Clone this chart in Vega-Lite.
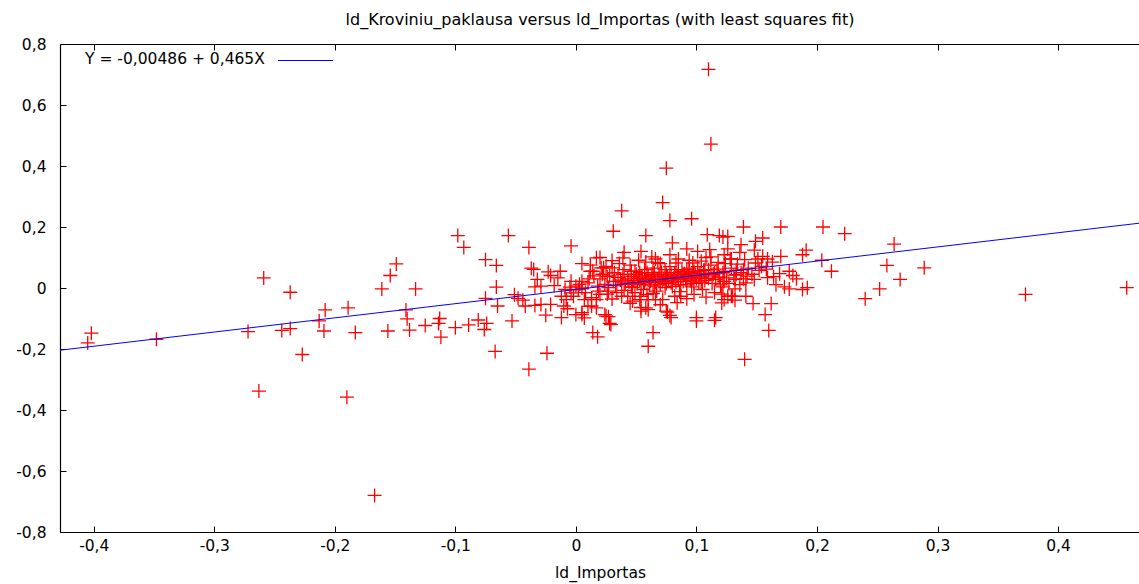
{
  "$schema": "https://vega.github.io/schema/vega-lite/v6.json",
  "width": 1080,
  "height": 488,
  "autosize": {"type": "none"},
  "padding": {"left": 60, "top": 44, "right": 0, "bottom": 52},
  "background": "white",
  "title": {"text": "ld_Kroviniu_paklausa versus ld_Importas (with least squares fit)", "font": "DejaVu Sans", "fontSize": 16, "fontWeight": "normal", "color": "black", "offset": 9},
  "config": {
    "view": {"stroke": null},
    "axis": {"labelFont": "DejaVu Sans", "labelFontSize": 15.5, "labelColor": "black", "domainColor": "black", "tickColor": "black", "grid": false, "titleFont": "DejaVu Sans", "titleFontSize": 15.5, "titleFontWeight": "normal", "titleColor": "black", "domainWidth": 1.2, "tickWidth": 1}
  },
  "datasets": {
    "fit": [{"x": -0.428, "y": -0.2039}, {"x": 0.468, "y": 0.2128}],
    "pts": [
      {"x": -0.402, "y": -0.148}, {"x": -0.405, "y": -0.180}, {"x": -0.348, "y": -0.168}, {"x": -0.272, "y": -0.143}, {"x": -0.259, "y": 0.033}, {"x": -0.263, "y": -0.338}, {"x": -0.237, "y": -0.014}, {"x": -0.244, "y": -0.139}, {"x": -0.237, "y": -0.133}, {"x": -0.227, "y": -0.218}, {"x": -0.213, "y": -0.108}, {"x": -0.209, "y": -0.141}, {"x": -0.208, "y": -0.072}, {"x": -0.189, "y": -0.065}, {"x": -0.190, "y": -0.358}, {"x": -0.183, "y": -0.146}, {"x": -0.167, "y": -0.680}, {"x": -0.161, "y": -0.003}, {"x": -0.154, "y": 0.041}, {"x": -0.149, "y": 0.079}, {"x": -0.156, "y": -0.141}, {"x": -0.141, "y": -0.072}, {"x": -0.140, "y": -0.101}, {"x": -0.138, "y": -0.138}, {"x": -0.133, "y": -0.003}, {"x": -0.125, "y": -0.123}, {"x": -0.114, "y": -0.116}, {"x": -0.113, "y": -0.100}, {"x": -0.112, "y": -0.161}, {"x": -0.100, "y": -0.130}, {"x": -0.098, "y": 0.172}, {"x": -0.093, "y": 0.133}, {"x": -0.089, "y": -0.121}, {"x": -0.081, "y": -0.105}, {"x": -0.075, "y": 0.093}, {"x": -0.074, "y": -0.116}, {"x": -0.076, "y": -0.136}, {"x": -0.066, "y": 0.074}, {"x": -0.066, "y": 0.003}, {"x": -0.075, "y": -0.034}, {"x": -0.065, "y": -0.059}, {"x": -0.067, "y": -0.208}, {"x": -0.056, "y": 0.172}, {"x": -0.053, "y": -0.108}, {"x": -0.051, "y": -0.022}, {"x": -0.048, "y": -0.034}, {"x": -0.044, "y": -0.040}, {"x": -0.042, "y": -0.059}, {"x": -0.039, "y": 0.133}, {"x": -0.037, "y": 0.065}, {"x": -0.035, "y": 0.061}, {"x": -0.032, "y": 0.028}, {"x": -0.034, "y": 0.004}, {"x": -0.029, "y": 0.006}, {"x": -0.039, "y": -0.266}, {"x": -0.024, "y": -0.214}, {"x": -0.029, "y": -0.054}, {"x": -0.025, "y": -0.089}, {"x": -0.023, "y": 0.053}, {"x": -0.021, "y": 0.041}, {"x": -0.021, "y": -0.054}, {"x": -0.018, "y": 0.008}, {"x": -0.013, "y": 0.055}, {"x": -0.015, "y": 0.033}, {"x": -0.012, "y": -0.097}, {"x": -0.010, "y": -0.059}, {"x": -0.007, "y": -0.068}, {"x": -0.004, "y": 0.138}, {"x": 0.000, "y": -0.087}, {"x": -0.004, "y": -0.016}, {"x": -0.002, "y": -0.027}, {"x": -0.009, "y": -0.005}, {"x": 0.000, "y": 0.006}, {"x": -0.004, "y": 0.022}, {"x": -0.034, "y": -0.057}, {"x": -0.012, "y": -0.027}, {"x": 0.002, "y": -0.005}, {"x": 0.005, "y": 0.080}, {"x": 0.017, "y": 0.099}, {"x": 0.012, "y": 0.055}, {"x": 0.005, "y": 0.022}, {"x": 0.007, "y": -0.038}, {"x": 0.013, "y": -0.059}, {"x": 0.017, "y": -0.038}, {"x": 0.005, "y": -0.087}, {"x": 0.024, "y": -0.087}, {"x": 0.026, "y": 0.037}, {"x": 0.025, "y": 0.071}, {"x": 0.031, "y": 0.186},
      {"x": 0.110, "y": 0.717}, {"x": 0.112, "y": 0.472}, {"x": 0.075, "y": 0.393}, {"x": 0.072, "y": 0.280}, {"x": 0.038, "y": 0.253}, {"x": 0.078, "y": 0.221}, {"x": 0.096, "y": 0.227}, {"x": 0.058, "y": 0.172}, {"x": 0.080, "y": 0.148}, {"x": 0.092, "y": 0.128}, {"x": 0.101, "y": 0.120}, {"x": 0.109, "y": 0.175}, {"x": 0.119, "y": 0.172}, {"x": 0.126, "y": 0.169}, {"x": 0.111, "y": 0.126}, {"x": 0.126, "y": 0.128}, {"x": 0.040, "y": 0.117}, {"x": 0.039, "y": 0.099}, {"x": 0.054, "y": 0.120}, {"x": 0.052, "y": 0.091}, {"x": 0.063, "y": 0.102}, {"x": 0.070, "y": 0.080}, {"x": 0.078, "y": 0.109}, {"x": 0.083, "y": 0.082}, {"x": 0.094, "y": 0.091}, {"x": 0.104, "y": 0.088}, {"x": 0.112, "y": 0.102}, {"x": 0.118, "y": 0.084}, {"x": 0.128, "y": 0.095}, {"x": 0.023, "y": 0.066}, {"x": 0.030, "y": 0.066}, {"x": 0.046, "y": 0.055}, {"x": 0.053, "y": 0.050}, {"x": 0.065, "y": 0.050}, {"x": 0.075, "y": 0.044}, {"x": 0.092, "y": 0.060}, {"x": 0.101, "y": 0.055}, {"x": 0.110, "y": 0.060}, {"x": 0.118, "y": 0.047}, {"x": 0.054, "y": -0.027}, {"x": 0.027, "y": -0.010}, {"x": 0.038, "y": -0.027}, {"x": 0.047, "y": -0.043}, {"x": 0.060, "y": -0.038}, {"x": 0.072, "y": -0.038}, {"x": 0.087, "y": -0.027}, {"x": 0.098, "y": -0.021}, {"x": 0.054, "y": -0.064}, {"x": 0.058, "y": -0.065}, {"x": 0.076, "y": -0.079}, {"x": 0.078, "y": -0.090}, {"x": 0.123, "y": -0.038}, {"x": 0.126, "y": -0.027}, {"x": 0.027, "y": -0.094}, {"x": 0.100, "y": -0.097}, {"x": 0.116, "y": -0.097}, {"x": 0.139, "y": 0.200}, {"x": 0.170, "y": 0.200}, {"x": 0.205, "y": 0.200}, {"x": 0.223, "y": 0.178}, {"x": 0.122, "y": 0.167}, {"x": 0.137, "y": 0.142}, {"x": 0.149, "y": 0.153}, {"x": 0.155, "y": 0.164}, {"x": 0.191, "y": 0.124}, {"x": 0.188, "y": 0.109}, {"x": 0.170, "y": 0.104}, {"x": 0.148, "y": 0.124}, {"x": 0.136, "y": 0.117}, {"x": 0.123, "y": 0.109}, {"x": 0.129, "y": 0.095}, {"x": 0.140, "y": 0.093}, {"x": 0.151, "y": 0.095}, {"x": 0.155, "y": 0.104}, {"x": 0.159, "y": 0.095}, {"x": 0.149, "y": 0.082}, {"x": 0.154, "y": 0.071}, {"x": 0.139, "y": 0.060}, {"x": 0.133, "y": 0.058}, {"x": 0.204, "y": 0.091}, {"x": 0.212, "y": 0.055}, {"x": 0.169, "y": 0.047}, {"x": 0.177, "y": 0.055}, {"x": 0.180, "y": 0.041}, {"x": 0.183, "y": 0.030}, {"x": 0.164, "y": 0.037}, {"x": 0.159, "y": 0.034}, {"x": 0.148, "y": 0.028}, {"x": 0.139, "y": 0.030}, {"x": 0.132, "y": 0.028}, {"x": 0.123, "y": 0.022}, {"x": 0.136, "y": 0.011}, {"x": 0.141, "y": 0.017}, {"x": 0.166, "y": 0.011}, {"x": 0.173, "y": 0.004}, {"x": 0.177, "y": -0.003}, {"x": 0.188, "y": -0.005}, {"x": 0.192, "y": 0.001}, {"x": 0.122, "y": 0.004}, {"x": 0.132, "y": -0.003}, {"x": 0.141, "y": -0.027}, {"x": 0.129, "y": -0.027}, {"x": 0.132, "y": -0.040}, {"x": 0.147, "y": -0.051}, {"x": 0.162, "y": -0.051}, {"x": 0.157, "y": -0.087}, {"x": 0.121, "y": -0.049}, {"x": 0.264, "y": 0.144}, {"x": 0.258, "y": 0.074}, {"x": 0.289, "y": 0.066}, {"x": 0.269, "y": 0.028}, {"x": 0.252, "y": -0.003}, {"x": 0.240, "y": -0.035}, {"x": 0.373, "y": -0.021}, {"x": 0.457, "y": 0.001}, {"x": 0.054, "y": -0.076}, {"x": 0.028, "y": -0.116}, {"x": 0.064, "y": -0.146}, {"x": 0.014, "y": -0.146}, {"x": 0.018, "y": -0.160}, {"x": 0.005, "y": -0.081}, {"x": 0.007, "y": -0.098}, {"x": 0.140, "y": -0.234}, {"x": 0.160, "y": -0.139}, {"x": 0.115, "y": -0.106}, {"x": 0.060, "y": -0.191},
      {"x": 0.068, "y": 0.083}, {"x": 0.021, "y": 0.066}, {"x": 0.014, "y": 0.055}, {"x": 0.032, "y": 0.050}, {"x": 0.040, "y": 0.060}, {"x": 0.049, "y": 0.055}, {"x": 0.057, "y": 0.060}, {"x": 0.063, "y": 0.044}, {"x": 0.071, "y": 0.052}, {"x": 0.075, "y": 0.033}, {"x": 0.085, "y": 0.060}, {"x": 0.089, "y": 0.044}, {"x": 0.098, "y": 0.055}, {"x": 0.107, "y": 0.060}, {"x": 0.115, "y": 0.050}, {"x": 0.123, "y": 0.055}, {"x": 0.133, "y": 0.044}, {"x": 0.142, "y": 0.039}, {"x": 0.010, "y": 0.017}, {"x": 0.018, "y": 0.006}, {"x": 0.027, "y": 0.001}, {"x": 0.038, "y": 0.017}, {"x": 0.046, "y": 0.004}, {"x": 0.054, "y": 0.011}, {"x": 0.065, "y": 0.006}, {"x": 0.074, "y": 0.001}, {"x": 0.079, "y": 0.017}, {"x": 0.087, "y": 0.011}, {"x": 0.096, "y": 0.004}, {"x": 0.104, "y": 0.017}, {"x": 0.013, "y": -0.032}, {"x": 0.020, "y": -0.021}, {"x": 0.030, "y": -0.036}, {"x": 0.043, "y": -0.027}, {"x": 0.053, "y": -0.038}, {"x": 0.059, "y": -0.021}, {"x": 0.066, "y": -0.038}, {"x": 0.082, "y": -0.027}, {"x": 0.130, "y": -0.027}, {"x": 0.010, "y": -0.060}, {"x": 0.017, "y": -0.065}, {"x": 0.025, "y": -0.092}, {"x": 0.029, "y": -0.120}, {"x": 0.060, "y": -0.071}, {"x": 0.075, "y": -0.076}, {"x": 0.079, "y": -0.097}, {"x": 0.100, "y": -0.108},
      {"x": 0.020, "y": 0.030}, {"x": 0.024, "y": 0.012}, {"x": 0.028, "y": 0.040}, {"x": 0.031, "y": 0.022}, {"x": 0.033, "y": 0.008}, {"x": 0.035, "y": 0.035}, {"x": 0.037, "y": 0.026}, {"x": 0.039, "y": 0.045}, {"x": 0.041, "y": 0.012}, {"x": 0.043, "y": 0.030}, {"x": 0.044, "y": 0.020}, {"x": 0.046, "y": 0.038}, {"x": 0.047, "y": 0.002}, {"x": 0.048, "y": 0.025}, {"x": 0.050, "y": 0.045}, {"x": 0.051, "y": 0.015}, {"x": 0.052, "y": 0.032}, {"x": 0.053, "y": 0.024}, {"x": 0.055, "y": 0.040}, {"x": 0.056, "y": -0.005}, {"x": 0.057, "y": 0.018}, {"x": 0.058, "y": 0.028}, {"x": 0.059, "y": 0.050}, {"x": 0.060, "y": 0.036}, {"x": 0.061, "y": 0.010}, {"x": 0.062, "y": 0.022}, {"x": 0.063, "y": 0.030}, {"x": 0.064, "y": 0.065}, {"x": 0.065, "y": 0.040}, {"x": 0.066, "y": 0.018}, {"x": 0.067, "y": -0.010}, {"x": 0.068, "y": 0.028}, {"x": 0.069, "y": 0.036}, {"x": 0.070, "y": 0.012}, {"x": 0.071, "y": 0.045}, {"x": 0.072, "y": 0.022}, {"x": 0.073, "y": 0.030}, {"x": 0.074, "y": 0.060}, {"x": 0.075, "y": 0.015}, {"x": 0.076, "y": 0.038}, {"x": 0.077, "y": 0.025}, {"x": 0.078, "y": 0.070}, {"x": 0.079, "y": 0.044}, {"x": 0.080, "y": 0.005}, {"x": 0.081, "y": 0.032}, {"x": 0.082, "y": 0.050}, {"x": 0.083, "y": 0.020}, {"x": 0.084, "y": 0.040}, {"x": 0.085, "y": 0.028}, {"x": 0.086, "y": -0.012}, {"x": 0.087, "y": 0.036}, {"x": 0.088, "y": 0.055}, {"x": 0.089, "y": 0.022}, {"x": 0.090, "y": 0.047}, {"x": 0.091, "y": 0.030}, {"x": 0.092, "y": 0.010}, {"x": 0.093, "y": 0.040}, {"x": 0.094, "y": 0.065}, {"x": 0.095, "y": 0.025}, {"x": 0.096, "y": 0.034}, {"x": 0.097, "y": 0.050}, {"x": 0.098, "y": 0.015}, {"x": 0.099, "y": 0.042}, {"x": 0.100, "y": 0.030}, {"x": 0.101, "y": 0.070}, {"x": 0.102, "y": 0.020}, {"x": 0.103, "y": 0.048}, {"x": 0.104, "y": 0.036}, {"x": 0.105, "y": -0.005}, {"x": 0.106, "y": 0.058}, {"x": 0.107, "y": 0.025}, {"x": 0.108, "y": 0.040}, {"x": 0.110, "y": 0.032}, {"x": 0.112, "y": 0.075}, {"x": 0.113, "y": 0.015}, {"x": 0.114, "y": 0.045}, {"x": 0.116, "y": 0.028}, {"x": 0.117, "y": 0.062}, {"x": 0.119, "y": 0.036}, {"x": 0.120, "y": 0.010}, {"x": 0.122, "y": 0.050}, {"x": 0.124, "y": 0.080}, {"x": 0.125, "y": 0.033}, {"x": 0.127, "y": 0.015}, {"x": 0.129, "y": 0.065}, {"x": 0.131, "y": 0.042}, {"x": 0.134, "y": 0.078}, {"x": 0.137, "y": 0.050}, {"x": 0.143, "y": 0.065}, {"x": 0.146, "y": 0.045}, {"x": 0.152, "y": 0.058}, {"x": 0.158, "y": 0.062}, {"x": 0.163, "y": 0.085}, {"x": 0.005, "y": 0.000}, {"x": 0.008, "y": -0.015}, {"x": 0.003, "y": 0.012}, {"x": -0.005, "y": 0.003}, {"x": -0.008, "y": -0.038}, {"x": 0.011, "y": 0.030}, {"x": 0.015, "y": 0.040}, {"x": 0.019, "y": -0.010}, {"x": 0.022, "y": 0.045}, {"x": 0.026, "y": -0.020}, {"x": 0.034, "y": -0.015}, {"x": 0.040, "y": -0.008}, {"x": 0.045, "y": -0.050}, {"x": 0.049, "y": -0.015}, {"x": 0.064, "y": -0.018}, {"x": 0.070, "y": -0.055}, {"x": 0.084, "y": -0.048}, {"x": 0.092, "y": -0.035}, {"x": 0.108, "y": -0.030}, {"x": 0.115, "y": -0.015}, {"x": 0.121, "y": -0.020}, {"x": 0.045, "y": 0.075}, {"x": 0.058, "y": 0.085}, {"x": 0.066, "y": 0.095}, {"x": 0.085, "y": 0.095}, {"x": 0.097, "y": 0.082}, {"x": 0.108, "y": 0.100}, {"x": 0.030, "y": 0.090}, {"x": 0.036, "y": 0.080}, {"x": 0.020, "y": 0.100}, {"x": 0.012, "y": 0.075}
    ]
  },
  "resolve": {"axis": {"x": "independent"}},
  "layer": [
    {
      "mark": {"type": "rule", "color": "#222222", "strokeWidth": 1, "strokeDash": [1.5, 2.5]},
      "encoding": {"y": {"datum": 0, "type": "quantitative", "scale": {"domain": [-0.8, 0.8], "nice": false}}}
    },
    {
      "data": {"name": "pts"},
      "mark": {"type": "point", "shape": "M-1,0H1M0,-1V1", "filled": false, "stroke": "#ff0000", "strokeWidth": 1.3, "size": 196, "opacity": 1},
      "encoding": {
        "x": {"field": "x", "type": "quantitative", "scale": {"domain": [-0.428, 0.468], "nice": false, "zero": false},
              "axis": {"orient": "bottom", "title": "ld_Importas", "values": [-0.4, -0.3, -0.2, -0.1, 0, 0.1, 0.2, 0.3, 0.4], "labelExpr": "replace(replace(format(datum.value, '.1~f'), '.', ','), '\u2212', '-')", "tickSize": -6, "labelPadding": 12, "titlePadding": 12}},
        "y": {"field": "y", "type": "quantitative", "scale": {"domain": [-0.8, 0.8], "nice": false},
              "axis": {"title": null, "values": [-0.8, -0.6, -0.4, -0.2, 0, 0.2, 0.4, 0.6, 0.8], "labelExpr": "replace(replace(format(datum.value, '.1~f'), '.', ','), '\u2212', '-')", "tickSize": -6, "labelPadding": 20}}
      }
    },
    {
      "data": {"name": "fit"},
      "mark": {"type": "line", "strokeWidth": 1, "clip": true, "color": "#0000ff"},
      "encoding": {
        "x": {"field": "x", "type": "quantitative", "axis": {"orient": "top", "labels": false, "title": null, "values": [-0.4, -0.3, -0.2, -0.1, 0, 0.1, 0.2, 0.3, 0.4], "tickSize": -6}},
        "y": {"field": "y", "type": "quantitative"},
        "color": {"datum": "fit", "type": "nominal", "scale": {"range": ["#0000ff"]},
                  "legend": {"orient": "none", "legendX": 25, "legendY": 9, "title": "Y = -0,00486 + 0,465X", "titleOrient": "left", "titleAnchor": "middle", "titleBaseline": "middle", "titleFont": "DejaVu Sans", "titleFontSize": 15.5, "titleFontWeight": "normal", "titleColor": "black", "titleLimit": 400, "titlePadding": 33, "labelExpr": "''", "symbolType": "M-4,0H4", "symbolSize": 189, "symbolStrokeWidth": 1, "symbolStrokeColor": "#0000ff", "symbolFillColor": "#0000ff", "symbolOpacity": 1}}
      }
    }
  ]
}
